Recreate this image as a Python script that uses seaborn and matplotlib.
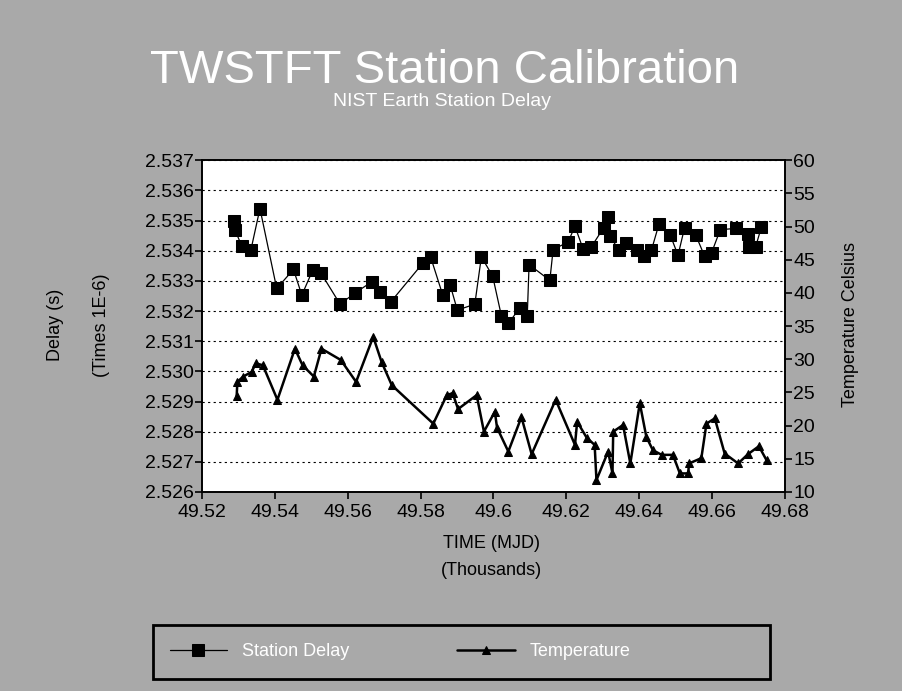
import matplotlib
matplotlib.use("Agg")
import matplotlib.pyplot as plt
import seaborn as sns
import pandas as pd
from matplotlib.patches import Rectangle
from matplotlib.ticker import MultipleLocator, FormatStrFormatter, FuncFormatter

# Station delay measurements (MJD, microseconds)
delay_mjd = [49528.9, 49529.0, 49530.9, 49533.4, 49535.9, 49540.5, 49545.1, 49547.4,
             49550.4, 49552.6, 49557.9, 49562.0, 49566.6, 49568.8, 49571.8, 49580.7,
             49582.8, 49586.1, 49588.1, 49590.1, 49594.9, 49596.7, 49599.8, 49602.2,
             49604.1, 49607.3, 49609.3, 49609.8, 49615.5, 49616.4, 49620.5, 49622.4,
             49624.6, 49626.9, 49630.3, 49631.5, 49632.0, 49634.5, 49636.5, 49639.3,
             49641.3, 49643.4, 49645.5, 49648.6, 49650.7, 49652.5, 49655.6, 49658.0,
             49659.9, 49662.3, 49666.5, 49669.9, 49670.1, 49672.0, 49673.6]
delay_us = [2.53500, 2.53470, 2.53416, 2.53402, 2.53540, 2.53275, 2.53338, 2.53253,
            2.53336, 2.53327, 2.53223, 2.53260, 2.53297, 2.53264, 2.53230, 2.53360,
            2.53378, 2.53253, 2.53288, 2.53203, 2.53223, 2.53380, 2.53316, 2.53184,
            2.53159, 2.53211, 2.53184, 2.53354, 2.53302, 2.53404, 2.53429, 2.53481,
            2.53407, 2.53413, 2.53477, 2.53512, 2.53448, 2.53402, 2.53426, 2.53402,
            2.53382, 2.53402, 2.53490, 2.53451, 2.53385, 2.53477, 2.53451, 2.53382,
            2.53393, 2.53470, 2.53474, 2.53455, 2.53413, 2.53413, 2.53479]

# Enclosure temperature (MJD, degrees Celsius)
temp_mjd = [49529.5, 49529.7, 49531.3, 49533.6, 49534.8, 49536.7, 49540.7, 49545.5,
            49547.6, 49550.7, 49552.8, 49558.1, 49562.3, 49567.0, 49569.3, 49572.1,
            49583.5, 49587.2, 49588.8, 49590.3, 49595.4, 49597.4, 49600.4, 49601.0,
            49604.1, 49607.7, 49610.5, 49617.1, 49622.4, 49623.0, 49625.6, 49627.8,
            49628.3, 49631.5, 49632.7, 49632.9, 49635.6, 49637.6, 49640.2, 49642.0,
            49643.8, 49646.2, 49649.3, 49651.2, 49653.5, 49653.7, 49657.1, 49658.5,
            49660.8, 49663.5, 49667.2, 49669.9, 49672.9, 49675.0]
temp_c = [24.4, 26.6, 27.4, 28.1, 29.4, 29.1, 23.9, 31.6,
          29.1, 27.4, 31.6, 29.9, 26.6, 33.4, 29.6, 26.1,
          20.3, 24.6, 24.9, 22.5, 24.6, 19.1, 22.1, 19.7,
          16.1, 21.3, 15.7, 23.9, 17.1, 20.6, 18.2, 17.1,
          11.8, 16.1, 12.8, 19.1, 20.1, 14.3, 23.4, 18.3,
          16.3, 15.6, 15.6, 12.8, 12.8, 14.3, 15.1, 20.3,
          21.1, 15.8, 14.3, 15.7, 16.9, 14.8]

title = "TWSTFT Station Calibration"
subtitle = "NIST Earth Station Delay"
series_names = ["Station Delay", "Temperature"]

delay_df = pd.DataFrame({"mjd_k": [m / 1000 for m in delay_mjd], "delay": delay_us})
temp_df = pd.DataFrame({"mjd_k": [m / 1000 for m in temp_mjd], "temp": temp_c})

sns.set_theme(style="white")
plt.rcParams["font.family"] = ["Liberation Sans", "DejaVu Sans"]

bg = "#a9a9a9"
fig = plt.figure(figsize=(9.02, 6.91), dpi=100, facecolor=bg)
ax = fig.add_axes([0.224, 0.288, 0.646, 0.480])
ax.set_facecolor("white")

sns.lineplot(data=delay_df, x="mjd_k", y="delay", ax=ax, sort=False, estimator=None,
             color="black", linewidth=0.9, marker="s", markersize=8,
             markeredgecolor="black", markerfacecolor="black", label=series_names[0],
             legend=False)

ax2 = ax.twinx()
sns.lineplot(data=temp_df, x="mjd_k", y="temp", ax=ax2, sort=False, estimator=None,
             color="black", linewidth=1.8, marker="^", markersize=6,
             markeredgecolor="black", markerfacecolor="black", label=series_names[1],
             legend=False)

ax.set_xlim(49.52, 49.68)
ax.set_ylim(2.526, 2.537)
ax2.set_ylim(10, 60)

ax.xaxis.set_major_locator(MultipleLocator(0.02))
ax.xaxis.set_major_formatter(FuncFormatter(lambda v, p: f"{v:.2f}".rstrip("0")))
ax.yaxis.set_major_locator(MultipleLocator(0.001))
ax.yaxis.set_major_formatter(FormatStrFormatter("%.3f"))
ax2.yaxis.set_major_locator(MultipleLocator(5))

ax.yaxis.grid(True, linestyle=(0, (2, 3)), color="black", linewidth=0.8)
ax.xaxis.grid(False)
ax2.grid(False)

for a in (ax, ax2):
    for s in a.spines.values():
        s.set_color("black")
        s.set_linewidth(1.2)
    a.tick_params(colors="black", labelsize=14, direction="out", length=5, width=1.2)
ax.tick_params(axis="y", left=True, pad=1)
ax.tick_params(axis="x", bottom=True, pad=4)
ax2.tick_params(axis="y", right=True, pad=1)

ax.set_xlabel("")
ax.set_ylabel("")
ax2.set_ylabel("")

# Titles and axis captions
fig.text(0.493, 0.897, title, ha="center", va="center", color="white", fontsize=34)
fig.text(0.49, 0.853, subtitle, ha="center", va="center", color="white", fontsize=14)
fig.text(0.062, 0.53, "Delay (s)", rotation=90, ha="center", va="center", fontsize=13, color="black")
fig.text(0.112, 0.53, "(Times 1E-6)", rotation=90, ha="center", va="center", fontsize=13, color="black")
fig.text(0.943, 0.53, "Temperature Celsius", rotation=90, ha="center", va="center", fontsize=13, color="black")
fig.text(0.545, 0.213, "TIME (MJD)", ha="center", va="center", fontsize=13, color="black")
fig.text(0.545, 0.174, "(Thousands)", ha="center", va="center", fontsize=13, color="black")

# Legend box spanning the lower part of the page
fig.patches.append(Rectangle((0.170, 0.018), 0.684, 0.078, transform=fig.transFigure,
                             facecolor="none", edgecolor="black", linewidth=2.0))
handles = ax.get_lines()[:1] + ax2.get_lines()[:1]
leg = fig.legend(handles, series_names, loc="center left", bbox_to_anchor=(0.160, 0.057),
                 ncol=2, frameon=False, fontsize=13, columnspacing=6.0, handlelength=3.2,
                 borderpad=0.9)
for t in leg.get_texts():
    t.set_color("white")

fig.savefig("out.png", dpi=100, facecolor=bg)
